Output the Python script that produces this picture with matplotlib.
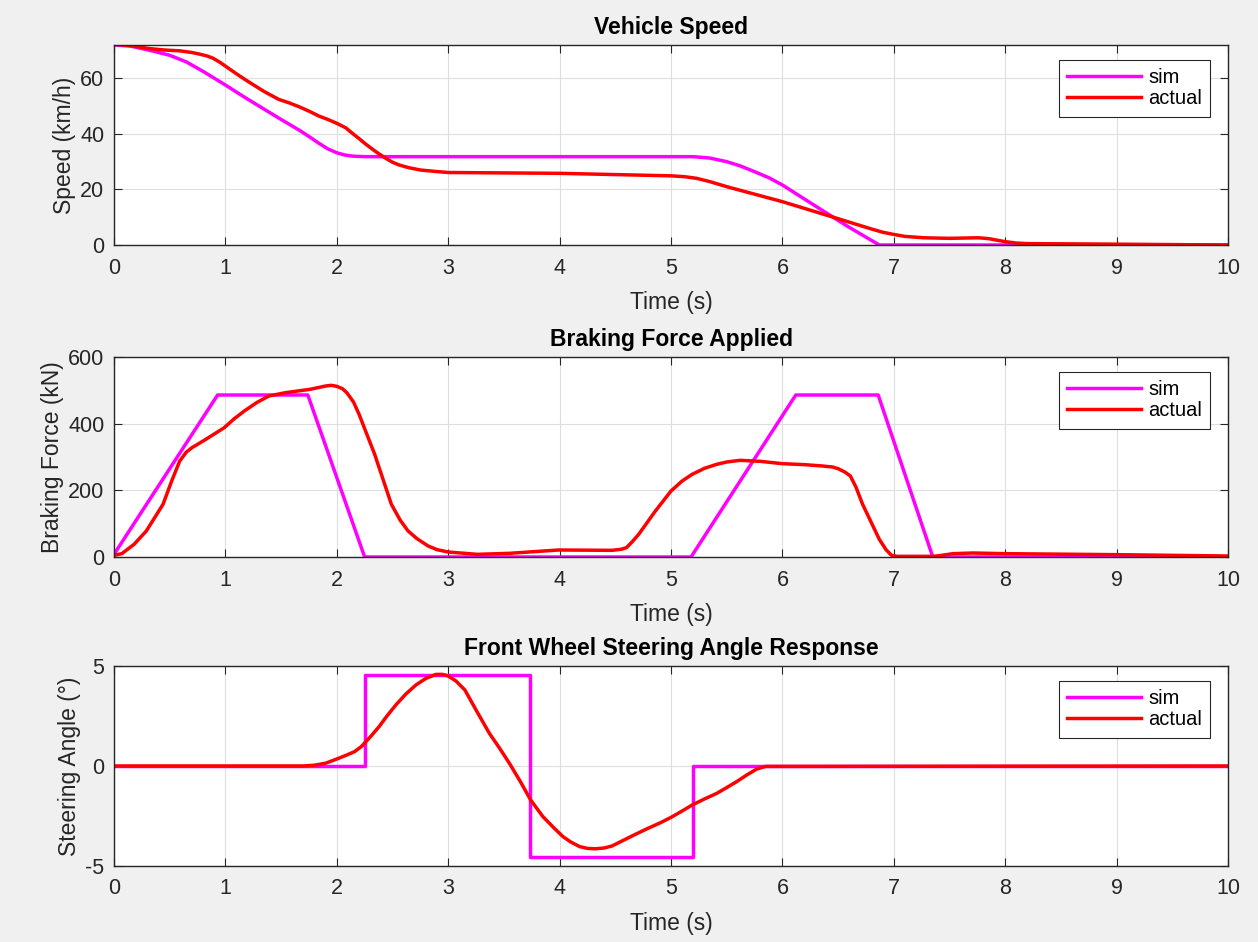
import matplotlib
matplotlib.use("Agg")
import matplotlib.pyplot as plt

plt.rcParams['font.family'] = ['Liberation Sans', 'DejaVu Sans']
plt.rcParams['axes.unicode_minus'] = False

# ---------------- data ----------------
# Vehicle speed (km/h)
speed_sim_t = [0, 0.15, 0.32, 0.5, 0.65, 0.8, 1.0, 1.18, 1.36, 1.5, 1.66, 1.76, 1.84, 1.92, 2.0, 2.07, 2.14,
               2.25, 5.2, 5.35, 5.5, 5.62, 5.75, 5.88, 6.0, 6.29, 6.59, 6.87, 10]
speed_sim_v = [72, 71.6, 70.1, 68.3, 65.9, 62.5, 57.6, 53.0, 48.6, 45.2, 41.4, 38.8, 36.6, 34.6, 33.2, 32.4, 32.0,
               31.8, 31.8, 31.3, 30.0, 28.5, 26.4, 24.2, 21.6, 14.2, 6.6, 0, 0]

speed_act_t = [0, 0.15, 0.32, 0.45, 0.59, 0.7, 0.77, 0.84, 0.89, 0.95, 1.0, 1.1, 1.21, 1.35, 1.48, 1.57, 1.66,
               1.75, 1.84, 1.92, 2.0, 2.08, 2.14, 2.2, 2.26, 2.35, 2.44, 2.5, 2.56, 2.65, 2.75, 2.88,
               3.0, 4.0, 5.0, 5.12, 5.23, 5.35, 5.5, 6.0, 6.49, 6.78, 6.9, 7.0, 7.1, 7.27, 7.5, 7.76, 7.85,
               8.0, 8.1, 8.2, 9.0, 10]
speed_act_v = [72.3, 71.8, 70.7, 70.2, 69.9, 69.3, 68.7, 68.0, 67.2, 65.8, 64.4, 61.6, 58.7, 55.2, 52.4, 51.2, 49.8,
               48.2, 46.4, 45.2, 43.8, 42.2, 40.2, 38.3, 36.3, 33.6, 31.2, 29.8, 28.8, 27.8, 27.0, 26.5,
               26.1, 25.8, 24.9, 24.6, 24.0, 22.8, 21.0, 15.6, 9.6, 6.0, 4.6, 3.8, 3.1, 2.6, 2.4, 2.6, 2.3,
               1.2, 0.7, 0.5, 0.3, 0.0]

# Braking force (kN)
brake_sim_t = [0, 0.93, 1.74, 2.25, 5.18, 6.12, 6.86, 7.35, 10]
brake_sim_v = [8, 486, 486, 0, 0, 486, 486, 0, 0]

brake_act_t = [0, 0.07, 0.18, 0.29, 0.44, 0.52, 0.59, 0.65, 0.70, 0.81, 0.99, 1.08, 1.17, 1.28, 1.39, 1.54,
               1.76, 1.90, 1.95, 2.0, 2.05, 2.09, 2.15, 2.20, 2.34, 2.49, 2.57, 2.64, 2.72, 2.82, 2.9, 3.0,
               3.26, 3.55, 3.99, 4.47, 4.55, 4.6, 4.65, 4.71, 4.86, 5.0, 5.1, 5.19, 5.3, 5.41, 5.5, 5.62,
               5.8, 6.0, 6.2, 6.36, 6.45, 6.5, 6.56, 6.61, 6.66, 6.72, 6.87, 6.93, 6.98, 7.03, 7.36, 7.45,
               7.53, 7.71, 8.0, 9.0, 10]
brake_act_v = [5, 10, 38, 78, 158, 230, 288, 315, 328, 350, 388, 415, 438, 463, 483, 493,
               503, 513, 515, 512, 505, 493, 465, 428, 308, 158, 110, 78, 55, 33, 22, 15,
               8, 11, 21, 20, 23, 28, 45, 68, 138, 198, 228, 248, 266, 278, 285, 290,
               287, 280, 277, 273, 270, 265, 255, 243, 210, 158, 53, 22, 5, 2, 2, 6,
               10, 12, 10, 7, 3]

# Steering angle (deg)
steer_sim_t = [0, 2.25, 2.25, 3.73, 3.73, 5.20, 5.20, 10]
steer_sim_v = [0, 0, 4.55, 4.55, -4.55, -4.55, 0, 0]

steer_act_t = [0, 1.7, 1.8, 1.90, 2.0, 2.09, 2.16, 2.22, 2.3, 2.38, 2.45, 2.53, 2.62, 2.71, 2.8, 2.89, 2.95,
               3.0, 3.07, 3.15, 3.25, 3.37, 3.46, 3.55, 3.65, 3.74, 3.85, 3.95, 4.03, 4.1, 4.18, 4.25, 4.32,
               4.4, 4.47, 4.56, 4.65, 4.78, 4.9, 5.0, 5.1, 5.19, 5.3, 5.41, 5.5, 5.59, 5.68, 5.77, 5.85, 10]
steer_act_v = [0, 0, 0.04, 0.14, 0.35, 0.55, 0.72, 0.97, 1.45, 1.97, 2.5, 3.05, 3.6, 4.05, 4.38, 4.58, 4.58,
               4.5, 4.25, 3.8, 2.8, 1.63, 0.9, 0.13, -0.8, -1.7, -2.53, -3.1, -3.53, -3.8, -4.03, -4.12, -4.14,
               -4.1, -4.0, -3.75, -3.5, -3.15, -2.85, -2.57, -2.25, -1.95, -1.65, -1.37, -1.08, -0.78, -0.45, -0.15, -0.02, 0]

titles = ["Vehicle Speed", "Braking Force Applied", "Front Wheel Steering Angle Response"]
ylabels = ["Speed (km/h)", "Braking Force (kN)", "Steering Angle (°)"]
yticks = [[0, 20, 40, 60], [0, 200, 400, 600], [-5, 0, 5]]
ylims = [(0, 72), (0, 600), (-5, 5)]
xticks = list(range(0, 11))
series_labels = ["sim", "actual"]

# ---------------- figure ----------------
W, H = 1258, 942
fig = plt.figure(figsize=(W / 100, H / 100), dpi=100, facecolor='#f0f0f0')

boxes = [(45, 245), (357, 557), (666, 866)]
left_px, right_px = 114, 1228
data = [(speed_sim_t, speed_sim_v, speed_act_t, speed_act_v),
        (brake_sim_t, brake_sim_v, brake_act_t, brake_act_v),
        (steer_sim_t, steer_sim_v, steer_act_t, steer_act_v)]

edge = '#262626'
for i, (top, bot) in enumerate(boxes):
    ax = fig.add_axes([left_px / W, 1 - bot / H, (right_px - left_px) / W, (bot - top) / H])
    st, sv, at, av = data[i]
    ax.plot(st, sv, color='#ff00ff', lw=2.5, label=series_labels[0], solid_joinstyle='round')
    ax.plot(at, av, color='#ff0000', lw=2.5, label=series_labels[1], solid_joinstyle='round')
    ax.set_xlim(0, 10)
    ax.set_ylim(*ylims[i])
    ax.set_xticks(xticks)
    ax.set_yticks(yticks[i])
    ax.grid(True, color='#dedede', lw=0.8)
    ax.set_axisbelow(True)
    for s in ax.spines.values():
        s.set_color(edge)
        s.set_linewidth(1.0)
    ax.tick_params(direction='in', length=6, width=0.8, colors=edge, labelsize=15.5,
                   top=True, right=True)
    ax.tick_params(axis='x', pad=9)
    ax.tick_params(axis='y', pad=7)
    ax.set_title(titles[i], fontsize=16.5, fontweight='bold', color='black', pad=8)
    ax.set_xlabel("Time (s)", fontsize=16.5, color=edge, labelpad=9)
    ax.set_ylabel(ylabels[i], fontsize=16.5, color=edge, labelpad=3)
    leg = ax.legend(loc='upper right', bbox_to_anchor=(0.984, 0.925), fontsize=14.5,
                    frameon=True, fancybox=False, handlelength=3.7, borderpad=0.4,
                    labelspacing=0.12, handletextpad=0.35, borderaxespad=0)
    leg.get_frame().set_edgecolor('#262626')
    leg.get_frame().set_linewidth(0.8)
    leg.get_frame().set_alpha(1)

fig.savefig("out.png", dpi=100, facecolor=fig.get_facecolor())
